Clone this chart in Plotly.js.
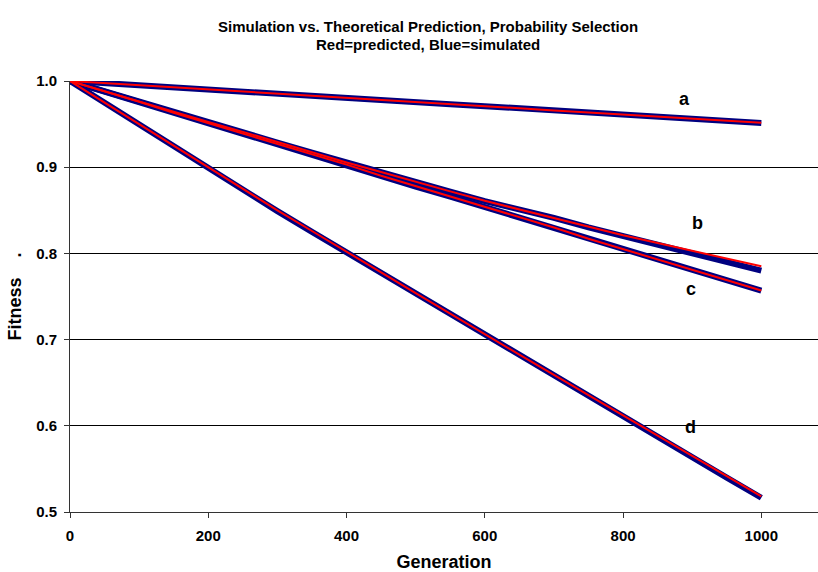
<!DOCTYPE html>
<html>
<head>
<meta charset="utf-8">
<script src="https://cdn.plot.ly/plotly-3.0.1.min.js"></script>
<style>
  html, body { margin: 0; padding: 0; background: #ffffff; }
  #chart { width: 818px; height: 572px; }
</style>
</head>
<body>
<div id="chart"></div>
<script>
// Generations at which values were read
const generations = [0, 50, 100, 150, 200, 250, 300, 350, 400, 450, 500,
                     550, 600, 650, 700, 750, 800, 850, 900, 950, 1000];

// Predicted (red)
const predA = [1.000, 0.9975, 0.9951, 0.9926, 0.9902, 0.9877, 0.9853, 0.9828, 0.9804, 0.9780, 0.9755,
               0.9731, 0.9707, 0.9683, 0.9659, 0.9635, 0.9611, 0.9587, 0.9563, 0.9539, 0.9515];
const predB = [1.000, 0.988, 0.976, 0.964, 0.9525, 0.941, 0.929, 0.917, 0.9055, 0.8945, 0.883,
               0.872, 0.861, 0.851, 0.841, 0.8305, 0.821, 0.812, 0.803, 0.794, 0.785];
const predC = [1.000, 0.988, 0.976, 0.963, 0.951, 0.939, 0.927, 0.915, 0.903, 0.890, 0.878,
               0.866, 0.854, 0.842, 0.830, 0.817, 0.805, 0.793, 0.781, 0.769, 0.757];
const predD = [1.000, 0.975, 0.950, 0.9245, 0.899, 0.8745, 0.850, 0.826, 0.8025, 0.778, 0.754,
               0.730, 0.706, 0.6825, 0.659, 0.6355, 0.612, 0.5885, 0.565, 0.5415, 0.518];

// Simulated (blue)
const simA = [1.000, 0.9974, 0.9952, 0.9925, 0.9903, 0.9876, 0.9854, 0.9827, 0.9805, 0.9779, 0.9756,
              0.9730, 0.9708, 0.9682, 0.9660, 0.9634, 0.9612, 0.9586, 0.9564, 0.9538, 0.9514];
const simB = [1.000, 0.9878, 0.9757, 0.9636, 0.9522, 0.9405, 0.9286, 0.9168, 0.9052, 0.8938, 0.8826,
              0.8716, 0.8606, 0.8512, 0.8412, 0.8302, 0.8200, 0.8108, 0.8012, 0.7908, 0.7800];
const simC = [1.000, 0.9876, 0.9755, 0.9628, 0.9505, 0.9386, 0.9266, 0.9146, 0.9024, 0.8898, 0.8776,
              0.8658, 0.8536, 0.8418, 0.8296, 0.8168, 0.8046, 0.7926, 0.7806, 0.7686, 0.7568];
const simD = [1.000, 0.9745, 0.9492, 0.9238, 0.8982, 0.8736, 0.8490, 0.8250, 0.8012, 0.7768, 0.7528,
              0.7286, 0.7046, 0.6812, 0.6574, 0.6340, 0.6104, 0.5868, 0.5634, 0.5398, 0.5165];

// Curve labels
const curveLabels = ['a', 'b', 'c', 'd'];
const labelX = [889, 907, 898, 898];
const labelY = [0.979, 0.835, 0.759, 0.599];

const xTicks = [0, 200, 400, 600, 800, 1000];
const yTicks = [0.5, 0.6, 0.7, 0.8, 0.9, 1.0];
const yTickText = ['0.5', '0.6', '0.7', '0.8', '0.9', '1.0'];

const titleLine1 = 'Simulation vs. Theoretical Prediction, Probability Selection';
const titleLine2 = 'Red=predicted, Blue=simulated';

const FONT = '"Liberation Sans", Arial, sans-serif';
const BLUE = '#000080';
const RED = '#ff0000';

const sims = [simA, simB, simC, simD];
const preds = [predA, predB, predC, predD];

const traces = [];
sims.forEach((s, i) => {
  traces.push({
    x: generations, y: s, type: 'scatter', mode: 'lines',
    line: { color: BLUE, width: 6 }, hoverinfo: 'skip', showlegend: false,
    name: 'simulated ' + curveLabels[i]
  });
});
preds.forEach((p, i) => {
  traces.push({
    x: generations, y: p, type: 'scatter', mode: 'lines',
    line: { color: RED, width: 2 }, hoverinfo: 'skip', showlegend: false,
    name: 'predicted ' + curveLabels[i]
  });
});

const annotations = curveLabels.map((t, i) => ({
  x: labelX[i], y: labelY[i], xref: 'x', yref: 'y', text: t, showarrow: false,
  font: { family: FONT, size: 18, color: '#000000', weight: 'bold' },
  xanchor: 'center', yanchor: 'middle'
}));
annotations.push({
  x: 0.4786, y: 1.127, xref: 'paper', yref: 'paper', text: titleLine1, showarrow: false,
  font: { family: FONT, size: 15, color: '#000000', weight: 'bold' },
  xanchor: 'center', yanchor: 'middle'
});
annotations.push({
  x: 0.4786, y: 1.084, xref: 'paper', yref: 'paper', text: titleLine2, showarrow: false,
  font: { family: FONT, size: 15, color: '#000000', weight: 'bold' },
  xanchor: 'center', yanchor: 'middle'
});

const layout = {
  width: 818, height: 572,
  margin: { l: 70, r: 0, t: 81, b: 60, pad: 0 },
  paper_bgcolor: '#ffffff', plot_bgcolor: '#ffffff',
  showlegend: false,
  font: { family: FONT, color: '#000000' },
  xaxis: {
    range: [0, 1082], tickvals: xTicks, ticktext: xTicks.map(String),
    showgrid: false, zeroline: false,
    showline: true, linecolor: '#333333', linewidth: 1,
    ticks: 'outside', ticklen: 5, tickcolor: '#333333',
    ticklabelstandoff: 5,
    tickfont: { family: FONT, size: 15, color: '#000000', weight: 'bold' },
    title: { text: 'Generation', font: { family: FONT, size: 18, color: '#000000', weight: 'bold' }, standoff: 16 }
  },
  yaxis: {
    range: [0.5, 1.0], tickvals: yTicks, ticktext: yTickText,
    showgrid: true, gridcolor: '#000000', gridwidth: 1, zeroline: false,
    showline: true, linecolor: '#333333', linewidth: 1,
    ticks: 'outside', ticklen: 5, tickcolor: '#333333',
    ticklabelstandoff: 4,
    tickfont: { family: FONT, size: 15, color: '#000000', weight: 'bold' },
    title: { text: 'Fitness &nbsp;&nbsp;&nbsp;.', font: { family: FONT, size: 18, color: '#000000', weight: 'bold' }, standoff: 9 }
  },
  annotations: annotations
};

Plotly.newPlot('chart', traces, layout, { staticPlot: true, displayModeBar: false });
</script>
</body>
</html>
